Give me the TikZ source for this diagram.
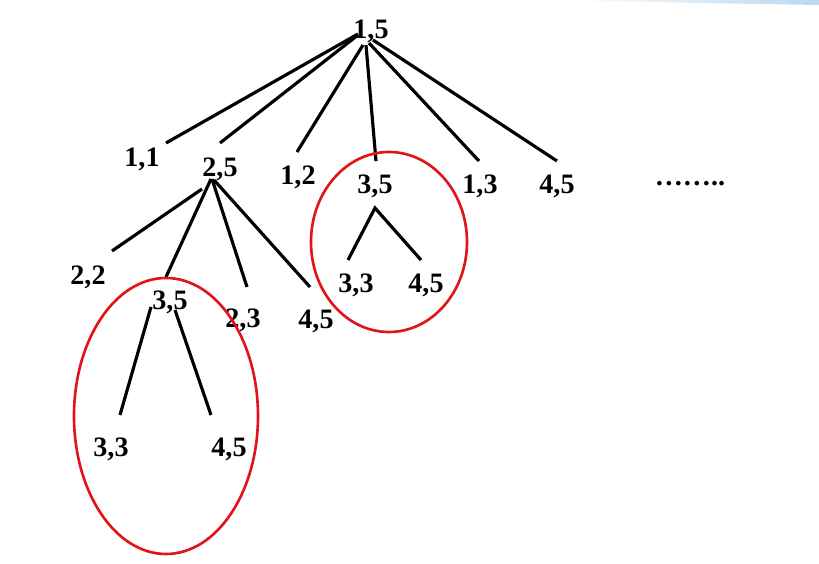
\documentclass[tikz,border=0pt]{standalone}
\usepackage{fontspec}
\setmainfont{Liberation Serif}
\definecolor{ringred}{RGB}{225,20,25}
\definecolor{bandblue}{RGB}{186,216,240}
\tikzset{
  lbl/.style={anchor=base,inner sep=0pt,font=\fontsize{16}{19}\selectfont\bfseries},
  edge/.style={line width=1.8pt},
  ring/.style={ringred,line width=1.5pt}
}
\begin{document}
\begin{tikzpicture}[x=0.02cm,y=-0.02cm]
    \useasboundingbox (0,0) rectangle (819,564);
    \shade[left color=white,right color=bandblue] (560,0) -- (819,0) -- (819,5) -- (700,3) -- cycle;
    % first level
    \node[lbl] (root) at (371,39) {1,5};
    \node[lbl] (n11) at (142,167) {1,1};
    \node[lbl] (n25) at (220,177) {2,5};
    \node[lbl] (n12) at (298,185) {1,2};
    \node[lbl] (n35) at (375,194) {3,5};
    \node[lbl] (n13) at (480,194) {1,3};
    \node[lbl] (n45) at (557,194) {4,5};
    \node[lbl] (dots) at (690,186) {……..};
    \draw[edge] ([shift={(-13,-5)}]root.base) -- ([shift={(24,-24)}]n11.base);
    \draw[edge] ([shift={(-13,-4)}]root.base) -- ([shift={(0,-34)}]n25.base);
    \draw[edge] ([shift={(-8,6)}]root.base) -- ([shift={(-1,-33)}]n12.base);
    \draw[edge] ([shift={(-5,6)}]root.base) -- ([shift={(1,-33)}]n35.base);
    \draw[edge] ([shift={(-2,4)}]root.base) -- ([shift={(-1,-33)}]n13.base);
    \draw[edge] ([shift={(2,1)}]root.base) -- ([shift={(0,-33)}]n45.base);
    % below 2,5
    \node[lbl] (n22) at (88,285) {2,2};
    \node[lbl] (n35b) at (170,310) {3,5};
    \node[lbl] (n23) at (243,328) {2,3};
    \node[lbl] (n45b) at (316,329) {4,5};
    \draw[edge] ([shift={(-18,12)}]n25.base) -- ([shift={(24,-34)}]n22.base);
    \draw[edge] ([shift={(-9,2)}]n25.base) -- ([shift={(-4,-33)}]n35b.base);
    \draw[edge] ([shift={(-8,2)}]n25.base) -- ([shift={(4,-41)}]n23.base);
    \draw[edge] ([shift={(-6,3)}]n25.base) -- ([shift={(-6,-42)}]n45b.base);
    % below the lower 3,5
    \node[lbl] (n33b) at (111,457) {3,3};
    \node[lbl] (n45c) at (229,457) {4,5};
    \draw[edge] ([shift={(-19,-3)}]n35b.base) -- ([shift={(9,-42)}]n33b.base);
    \draw[edge] ([shift={(5,0)}]n35b.base) -- ([shift={(-18,-42)}]n45c.base);
    % below the upper 3,5
    \node[lbl] (n33) at (356,293) {3,3};
    \node[lbl] (n45r) at (426,293) {4,5};
    \draw[edge] ([shift={(-8,-33)}]n33.base) -- ([shift={(0,14)}]n35.base) -- ([shift={(-5,-33)}]n45r.base);
    % rings
    \draw[ring] (166,416) ellipse [x radius=92,y radius=138];
    \draw[ring] (389,242) ellipse [x radius=78,y radius=90];
\end{tikzpicture}
\end{document}
